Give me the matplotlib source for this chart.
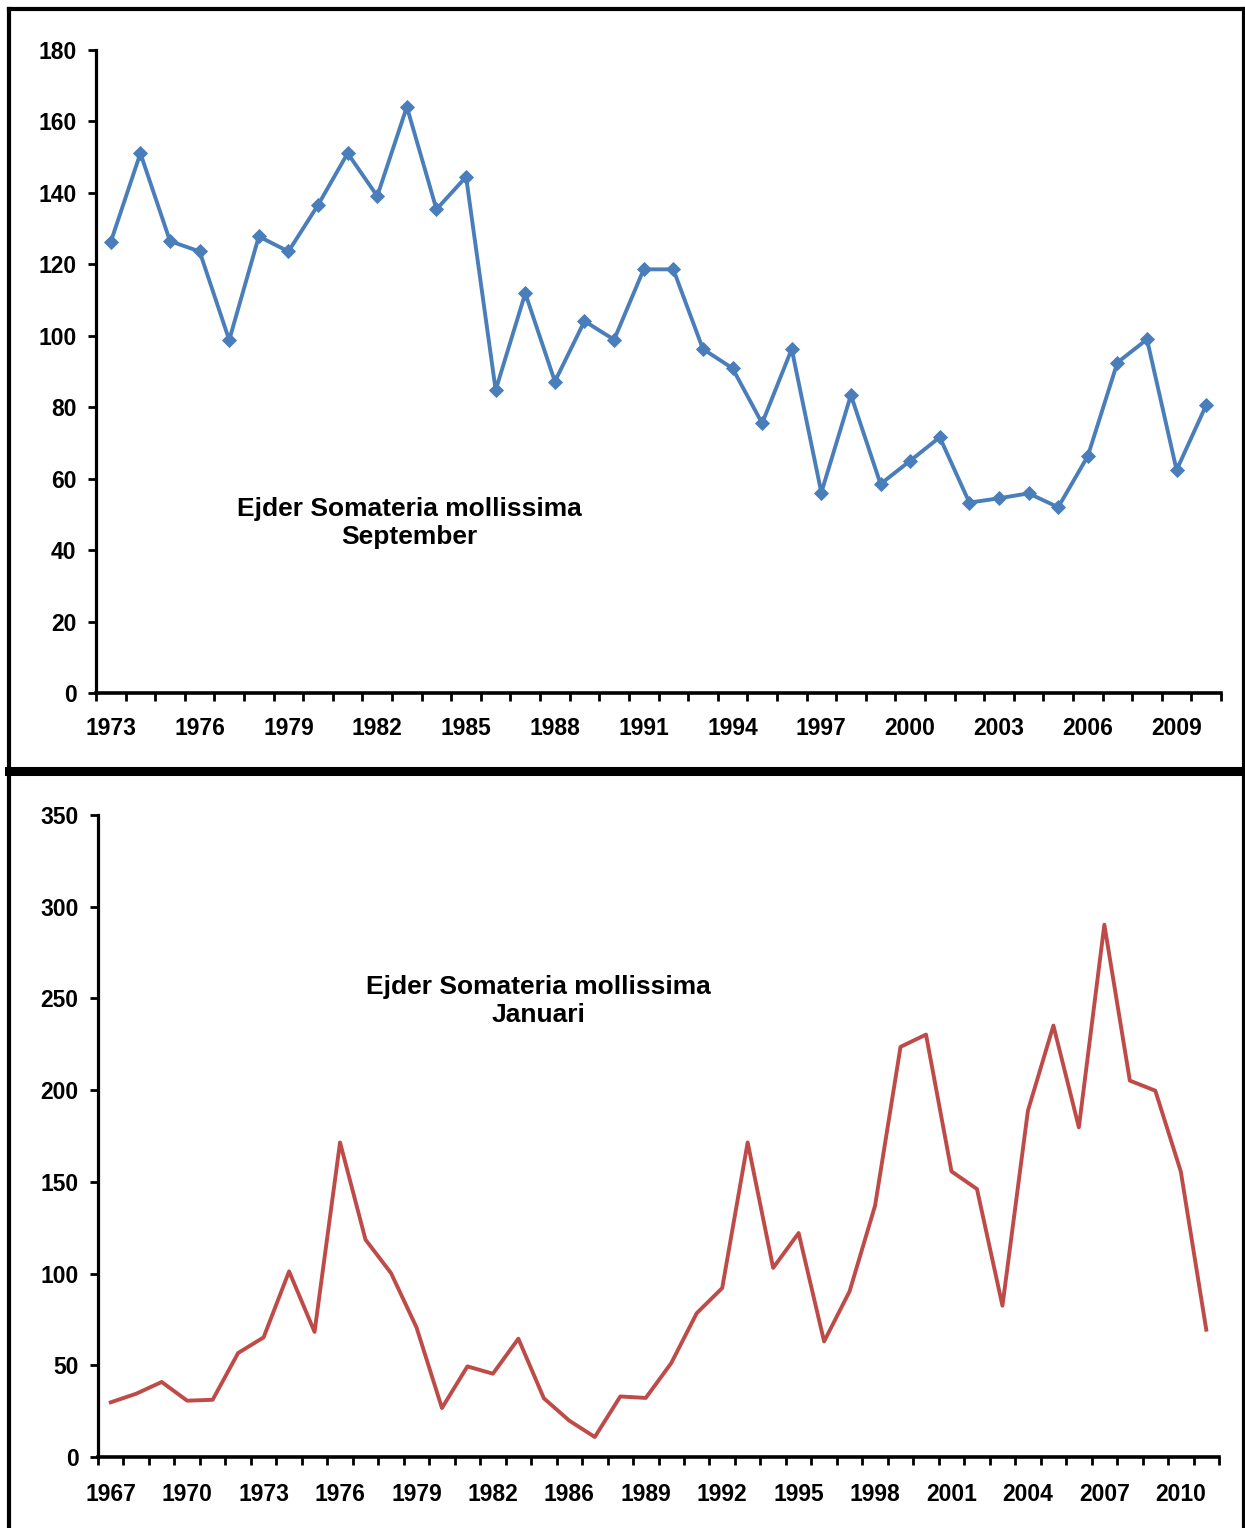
import numpy as np
import matplotlib.pyplot as plt
from matplotlib.lines import Line2D

plt.rcParams['font.family'] = ['Liberation Sans', 'DejaVu Sans']
plt.rcParams['font.weight'] = 'bold'

# -------------------------
# Data: September counts
# -------------------------
sep_years = [str(y) for y in range(1973, 2011)]
sep_values = [126.3, 151.1, 126.5, 123.6, 98.8, 127.8, 123.6, 136.6, 151.1, 139.1,
              164.1, 135.4, 144.5, 84.8, 111.9, 87.2, 104.1, 98.9, 118.6, 118.6,
              96.3, 90.9, 75.5, 96.3, 56.1, 83.4, 58.5, 65.0, 71.6, 53.3,
              54.5, 55.9, 52.0, 66.3, 92.5, 99.0, 62.4, 80.6]

# -------------------------
# Data: January counts (no 1985)
# -------------------------
jan_years = [str(y) for y in list(range(1967, 1985)) + list(range(1986, 2012))]
jan_values = [29.8, 34.5, 40.9, 30.7, 31.2, 56.7, 65.2, 101.2, 68.2, 171.5,
              118.5, 100.3, 70.7, 26.7, 49.4, 45.4, 64.5, 32.0, 19.8, 10.9,
              33.0, 32.2, 51.2, 78.4, 92.1, 171.5, 103.1, 122.1, 63.0, 90.3,
              137.0, 223.6, 230.3, 155.7, 146.1, 82.5, 188.8, 235.2, 179.7, 290.2,
              205.2, 199.7, 155.7, 69.4]

W, H = 1245, 1528
fig = plt.figure(figsize=(W / 100, H / 100), dpi=100)


def px_axes(left, top, right, bottom):
    return fig.add_axes([left / W, 1 - bottom / H, (right - left) / W, (bottom - top) / H])


def style_axes(ax, labels, ymax, ystep, xpad):
    n = len(labels)
    ax.set_xlim(-0.5, n - 0.5)
    ax.set_ylim(0, ymax)
    ax.set_yticks(np.arange(0, ymax + 1, ystep))
    ax.set_xticks(np.arange(0, n, 3))
    ax.set_xticklabels(labels[::3])
    ax.set_xticks(np.arange(n + 1) - 0.5, minor=True)
    ax.tick_params(axis='x', which='major', length=0, pad=xpad, labelsize=16.5)
    ax.tick_params(axis='x', which='minor', length=6, width=2, direction='out')
    ax.tick_params(axis='y', length=6, width=2, direction='out', pad=8, labelsize=16.5)
    for s in ['top', 'right']:
        ax.spines[s].set_visible(False)
    ax.spines['left'].set_linewidth(2.3)
    ax.spines['bottom'].set_linewidth(2.6)
    for lab in ax.get_xticklabels() + ax.get_yticklabels():
        lab.set_fontweight('bold')


# -------------------------
# Top chart: September
# -------------------------
ax1 = px_axes(96, 50, 1221, 693)
x1 = np.arange(len(sep_values))
ax1.plot(x1, sep_values, color='#4A7EBB', lw=2.8, marker='D', markersize=6.8,
         markeredgewidth=0.6, clip_on=False)
style_axes(ax1, sep_years, 180, 20, 17.5)
ax1.text(409, H - 523, 'Ejder Somateria mollissima\nSeptember', transform=None,
         ha='center', va='center', fontsize=19, fontweight='bold', linespacing=1.17)

# -------------------------
# Bottom chart: Januari
# -------------------------
ax2 = px_axes(98, 815, 1219, 1457)
x2 = np.arange(len(jan_values))
ax2.plot(x2, jan_values, color='#BE4B48', lw=2.8)
style_axes(ax2, jan_years, 350, 50, 18.5)
ax2.text(538, H - 1001, 'Ejder Somateria mollissima\nJanuari', transform=None,
         ha='center', va='center', fontsize=19, fontweight='bold', linespacing=1.17)

# -------------------------
# Frame lines
# -------------------------
def frame_line(xs, ys, lw):
    fig.add_artist(Line2D([v / W for v in xs], [1 - v / H for v in ys],
                          transform=fig.transFigure, color='black', lw=lw,
                          solid_capstyle='projecting'))


frame_line([9, 1243.5], [9, 9], 3.0)
frame_line([9, 9], [9, 1540], 3.0)
frame_line([1243.5, 1243.5], [9, 1540], 3.0)
frame_line([9, 1243.5], [771, 771], 6.5)

fig.savefig('out.png', dpi=100)
